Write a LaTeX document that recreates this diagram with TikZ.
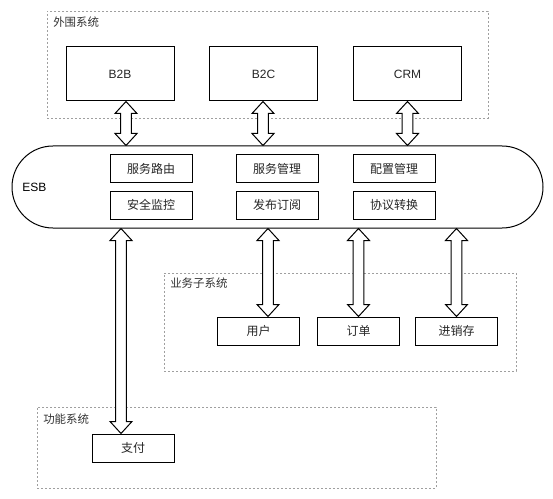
\documentclass[tikz,border=0pt]{standalone}
\usepackage{fontspec}
\setmainfont{Liberation Sans}
\newfontfamily\cjk{Noto Sans CJK SC}
\usetikzlibrary{calc}
\tikzset{
  box/.style={draw, line width=0.75pt, fill=white, inner sep=0pt, minimum width=61.5pt, minimum height=21pt, font=\cjk\fontsize{9}{11}\selectfont, text=black!85},
  bigbox/.style={box, minimum width=81pt, minimum height=40.5pt, font=\fontsize{9}{11}\selectfont},
  group/.style={draw=gray!75, dash pattern=on 1.6pt off 1.4pt, line width=0.5pt, inner sep=0pt},
  grouplabel/.style={anchor=west, inner sep=0pt, font=\cjk\fontsize{8.6}{10}\selectfont, text=black!80},
  blockarrow/.style={draw, line width=0.75pt, fill=white, line join=miter},
}
\newcommand\dblarrow[2]{%
  \path[blockarrow] let \p1=(#1), \p2=(#2) in
    (\x1,\y1) -- (\x1+8.25pt,\y1-9pt) -- (\x1+4pt,\y1-9pt) -- (\x1+4pt,\y2+9pt)
    -- (\x1+8.25pt,\y2+9pt) -- (\x1,\y2) -- (\x1-8.25pt,\y2+9pt) -- (\x1-4pt,\y2+9pt)
    -- (\x1-4pt,\y1-9pt) -- (\x1-8.25pt,\y1-9pt) -- cycle;}
\begin{document}
\begin{tikzpicture}[x=0.75pt,y=-0.75pt]
\useasboundingbox[fill=white] (0,0) rectangle (553,499);
% groups
\node[group, minimum width=330.75pt, minimum height=80.25pt] (outer) at (267.5,64.5) {};
\node[grouplabel] (outerlbl) at (53,22) {外围系统};
\node[group, minimum width=264pt, minimum height=73.5pt] (biz) at (340,322) {};
\node[grouplabel] (bizlbl) at (170,283) {业务子系统};
\node[group, minimum width=299.25pt, minimum height=60.75pt] (func) at (236.5,447.5) {};
\node[grouplabel] (funclbl) at (43,419) {功能系统};
% external systems
\node[bigbox] (b2b) at (120,74) {B2B};
\node[bigbox] (b2c) at (263.5,74) {B2C};
\node[bigbox] (crm) at (407.5,74) {CRM};
% ESB
\node[draw, line width=0.75pt, rounded corners=30.7pt, minimum width=398.25pt, minimum height=61.5pt, inner sep=0pt] (esb) at (277.5,187) {};
\node[anchor=west, inner sep=0pt, font=\fontsize{9}{11}\selectfont] (esblbl) at (22,187) {ESB};
\node[box] (route) at (151,169) {服务路由};
\node[box] (secure) at (151,205) {安全监控};
\node[box] (svcmgr) at (277,169) {服务管理};
\node[box] (pubsub) at (277,205) {发布订阅};
\node[box] (cfgmgr) at (394,169) {配置管理};
\node[box] (proto) at (394,205) {协议转换};
% business subsystems
\node[box] (yh) at (258.5,331) {用户};
\node[box] (dd) at (358.5,331) {订单};
\node[box] (jxc) at (456.5,331) {进销存};
% function system
\node[box] (zf) at (133,448) {支付};
% arrows
\dblarrow{$(b2b.south)+(6,0)$}{esb.north}
\dblarrow{$(b2c.south)+(-0.5,0)$}{esb.north}
\dblarrow{crm.south}{esb.north}
\dblarrow{$(esb.south -| zf.north)+(-12,0)$}{zf.north}
\dblarrow{$(esb.south -| yh.north)+(9.5,0)$}{yh.north}
\dblarrow{esb.south -| dd.north}{dd.north}
\dblarrow{esb.south -| jxc.north}{jxc.north}
\end{tikzpicture}
\end{document}
